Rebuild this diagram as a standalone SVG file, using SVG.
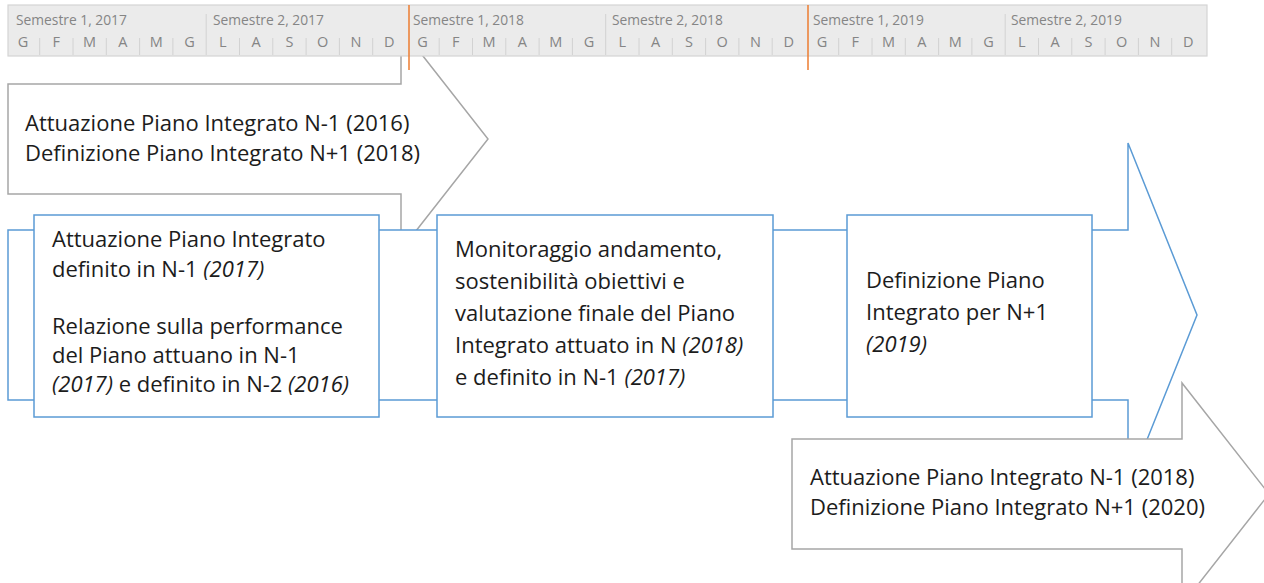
<svg xmlns="http://www.w3.org/2000/svg" width="1264" height="583" viewBox="0 0 1264 583">
<style>
.t{font-family:"Open Sans","Liberation Sans",sans-serif;font-size:22px;fill:#1c1c1c}
.i{font-style:italic}
.gray{fill:#fff;stroke:#a6a6a6;stroke-width:1.5}
.blue{fill:#fff;stroke:#5b9bd5;stroke-width:1.5}
.hdr{font-family:"Open Sans","Liberation Sans",sans-serif;font-size:13.8px;fill:#858585}
.mo{font-family:"Open Sans","Liberation Sans",sans-serif;font-size:14.5px;fill:#858585;text-anchor:middle}
.sep{stroke:#d2d2d2;stroke-width:1;fill:none}
.orange{stroke:#ed7d31;stroke-width:1.5}
</style>
<rect width="1264" height="583" fill="#fff"/>

<g id="arrow-top">
<path class="gray" d="M8,84 H401 V28 L488,139 L401,250 V194 H8 Z"/>
<text class="t" x="25" y="131">Attuazione Piano Integrato N-1 (2016)</text>
<text class="t" x="25" y="161">Definizione Piano Integrato N+1 (2018)</text>
</g>

<g id="timeline">
<rect x="8" y="5" width="1199" height="51" fill="#ebebeb" stroke="#d4d4d4" stroke-width="1.2"/>
<path class="sep" d="M39.7,38V55M73,38V55M106.3,38V55M139.6,38V55M172.9,38V55M206.2,14V55M239.5,38V55M272.8,38V55M306.1,38V55M339.4,38V55M372.7,38V55
M439.2,38V55M472.5,38V55M505.8,38V55M539.1,38V55M572.4,38V55M605.7,14V55M639,38V55M672.3,38V55M705.6,38V55M738.9,38V55M772.2,38V55
M838.7,38V55M872,38V55M905.3,38V55M938.6,38V55M971.9,38V55M1005.2,14V55M1038.5,38V55M1071.8,38V55M1105.1,38V55M1138.4,38V55M1171.7,38V55"/>
<text class="hdr" x="16" y="25">Semestre 1, 2017</text>
<text class="hdr" x="213" y="25">Semestre 2, 2017</text>
<text class="hdr" x="413" y="25">Semestre 1, 2018</text>
<text class="hdr" x="612" y="25">Semestre 2, 2018</text>
<text class="hdr" x="813" y="25">Semestre 1, 2019</text>
<text class="hdr" x="1011" y="25">Semestre 2, 2019</text>
<text class="mo" y="47"><tspan x="23">G</tspan><tspan x="56.3">F</tspan><tspan x="89.6">M</tspan><tspan x="122.9">A</tspan><tspan x="156.2">M</tspan><tspan x="189.5">G</tspan><tspan x="222.8">L</tspan><tspan x="256.1">A</tspan><tspan x="289.4">S</tspan><tspan x="322.7">O</tspan><tspan x="356">N</tspan><tspan x="389.3">D</tspan></text>
<text class="mo" y="47"><tspan x="422.5">G</tspan><tspan x="455.8">F</tspan><tspan x="489.1">M</tspan><tspan x="522.4">A</tspan><tspan x="555.7">M</tspan><tspan x="589">G</tspan><tspan x="622.3">L</tspan><tspan x="655.6">A</tspan><tspan x="688.9">S</tspan><tspan x="722.2">O</tspan><tspan x="755.5">N</tspan><tspan x="788.8">D</tspan></text>
<text class="mo" y="47"><tspan x="822">G</tspan><tspan x="855.3">F</tspan><tspan x="888.6">M</tspan><tspan x="921.9">A</tspan><tspan x="955.2">M</tspan><tspan x="988.5">G</tspan><tspan x="1021.8">L</tspan><tspan x="1055.1">A</tspan><tspan x="1088.4">S</tspan><tspan x="1121.7">O</tspan><tspan x="1155">N</tspan><tspan x="1188.3">D</tspan></text>
</g>

<g id="arrow-main">
<path class="blue" d="M8,230 H1128 V143 L1197,315 L1128,487 V400 H8 Z"/>
</g>

<g id="box-1">
<rect class="blue" x="34" y="215" width="345" height="202"/>
<text class="t" x="52" y="247">Attuazione Piano Integrato</text>
<text class="t" x="52" y="277">definito in N-1 <tspan class="i">(2017)</tspan></text>
<text class="t" x="52" y="334">Relazione sulla performance</text>
<text class="t" x="52" y="363">del Piano attuano in N-1</text>
<text class="t" x="52" y="392"><tspan class="i">(2017)</tspan> e definito in N-2 <tspan class="i">(2016)</tspan></text>
</g>

<g id="box-2">
<rect class="blue" x="437" y="215" width="336" height="202"/>
<text class="t" x="455" y="257">Monitoraggio andamento,</text>
<text class="t" x="455" y="289">sostenibilità obiettivi e</text>
<text class="t" x="455" y="321">valutazione finale del Piano</text>
<text class="t" x="455" y="353">Integrato attuato in N <tspan class="i">(2018)</tspan></text>
<text class="t" x="455" y="385">e definito in N-1 <tspan class="i">(2017)</tspan></text>
</g>

<g id="box-3">
<rect class="blue" x="847" y="215" width="245" height="202"/>
<text class="t" x="866" y="288">Definizione Piano</text>
<text class="t" x="866" y="320">Integrato per N+1</text>
<text class="t" x="866" y="352"><tspan class="i">(2019)</tspan></text>
</g>

<g id="arrow-bottom">
<path class="gray" d="M792,439 H1182 V383 L1269,494 L1182,605 V549 H792 Z"/>
<text class="t" x="810" y="485">Attuazione Piano Integrato N-1 (2018)</text>
<text class="t" x="810" y="515">Definizione Piano Integrato N+1 (2020)</text>
</g>

<g id="connectors">
<line class="orange" x1="409" y1="5" x2="409" y2="70"/>
<line class="orange" x1="808" y1="5" x2="808" y2="70"/>
</g>
</svg>
